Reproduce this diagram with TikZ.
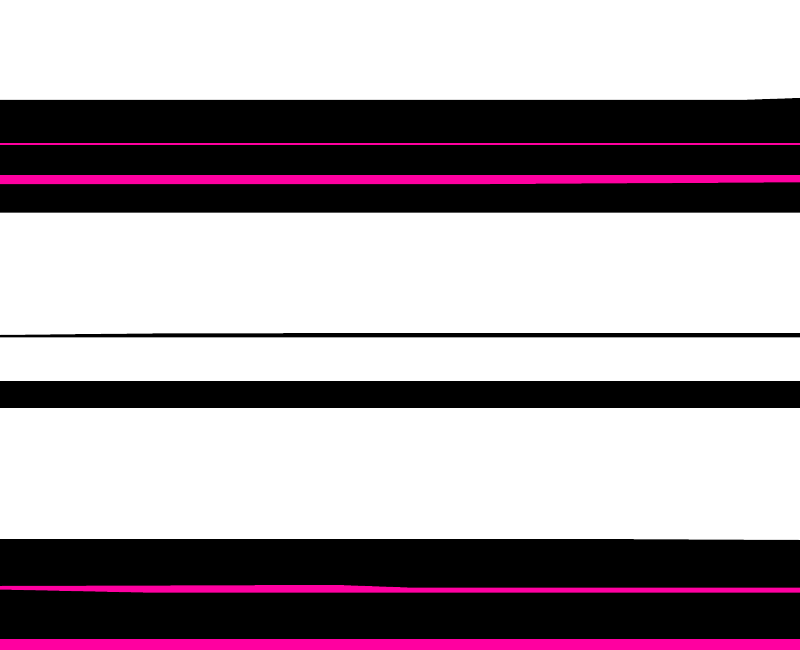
\documentclass[tikz,border=0pt]{standalone}
\usepackage{tikz}

\definecolor{hotpink}{RGB}{255,0,160}

\begin{document}
\begin{tikzpicture}[x=1pt,y=-1pt,
  darkband/.style={fill=black},
  pinkband/.style={fill=hotpink}]
% Canvas
\fill[white] (0,0) rectangle (800,650);
\useasboundingbox (0,0) rectangle (800,650);
% Upper band
\fill[darkband] (0,100) -- (740,100) -- (800,98) -- (800,212.5) -- (0,212.5) -- cycle;
\fill[pinkband] (0,142.8) rectangle (800,144.6);
\fill[pinkband] (0,175) -- (800,175) -- (800,182.3) -- (490,184) -- (0,184) -- cycle;
% Thin rule
\fill[darkband] (0,335) -- (70,334.3) -- (173,333.3) -- (800,333) -- (800,337.3) -- (0,337.3) -- cycle;
% Middle band
\fill[darkband] (0,381.3) rectangle (800,408.3);
% Lower band
\fill[darkband] (0,539) -- (580,539) -- (800,540) -- (800,639.3) -- (0,639.3) -- cycle;
\fill[pinkband] (0,586) -- (337,585) -- (413,587.7) -- (800,587.7) -- (800,592.7) -- (153,592.7) -- (0,589.5) -- cycle;
\fill[pinkband] (0,639.3) rectangle (800,650);
\end{tikzpicture}
\end{document}
